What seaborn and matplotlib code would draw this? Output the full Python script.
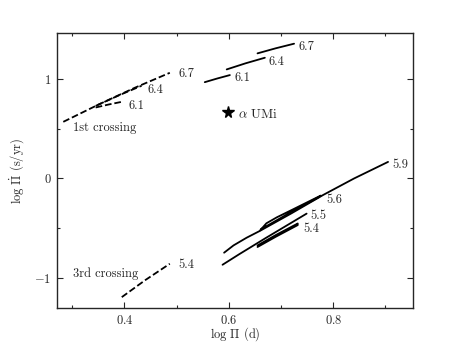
import numpy as np
import pandas as pd
import matplotlib
matplotlib.use("Agg")
import matplotlib.pyplot as plt
from matplotlib.ticker import MultipleLocator
import seaborn as sns

# first crossing (dashed)
c1_67_x = [0.283, 0.35, 0.42, 0.487]
c1_67_y = [0.568, 0.74, 0.91, 1.06]
c1_64_x = [0.345, 0.39, 0.433]
c1_64_y = [0.728, 0.835, 0.93]
c1_61_x = [0.345, 0.37, 0.398]
c1_61_y = [0.712, 0.742, 0.772]

# upper solid tracks
u_61_x = [0.554, 0.578, 0.602]
u_61_y = [0.966, 1.003, 1.037]
u_64_x = [0.596, 0.632, 0.669]
u_64_y = [1.094, 1.155, 1.211]
u_67_x = [0.655, 0.69, 0.725]
u_67_y = [1.255, 1.306, 1.352]

# third crossing (dashed)
c3_54_x = [0.395, 0.44, 0.487]
c3_54_y = [-1.191, -1.02, -0.856]

# lower solid tracks
t_59_x = [0.591, 0.609, 0.634, 0.660, 0.72, 0.781, 0.84, 0.905]
t_59_y = [-0.745, -0.672, -0.595, -0.525, -0.35, -0.165, 0.0, 0.166]
t_56_x = [0.660, 0.672, 0.692, 0.723, 0.776, 0.772, 0.72, 0.68, 0.662]
t_56_y = [-0.521, -0.45, -0.39, -0.31, -0.172, -0.19, -0.335, -0.455, -0.508]
t_55_x = [0.588, 0.62, 0.67, 0.71, 0.749]
t_55_y = [-0.866, -0.76, -0.60, -0.475, -0.353]
t_54_x = [0.655, 0.69, 0.732, 0.732, 0.69, 0.655]
t_54_y = [-0.672, -0.568, -0.452, -0.468, -0.585, -0.688]

star_x, star_y = 0.599, 0.668

tracks = [
    (c1_67_x, c1_67_y, "--", "6.7", (6, -1)),
    (c1_64_x, c1_64_y, "--", "6.4", (4, -3)),
    (c1_61_x, c1_61_y, "--", "6.1", (4, -3)),
    (u_61_x, u_61_y, "-", "6.1", (3, -2)),
    (u_64_x, u_64_y, "-", "6.4", (3, -3)),
    (u_67_x, u_67_y, "-", "6.7", (3, -2)),
    (c3_54_x, c3_54_y, "--", "5.4", (6, -1)),
    (t_59_x, t_59_y, "-", "5.9", (3, -2)),
    (t_56_x, t_56_y, "-", "5.6", (4, -3)),
    (t_55_x, t_55_y, "-", "5.5", (3, -1.5)),
    (t_54_x, t_54_y, "-", "5.4", (4, -4)),
]

sns.set_style("ticks")
plt.rcParams["font.family"] = "serif"
plt.rcParams["font.serif"] = ["cmr10"]
plt.rcParams["mathtext.fontset"] = "cm"
plt.rcParams["axes.formatter.use_mathtext"] = True
plt.rcParams["font.size"] = 9

fig = plt.figure(figsize=(4.58, 3.43), dpi=100)
ax = fig.add_axes([0.1245, 0.102, 0.7775, 0.802])

for xs, ys, ls, lab, off in tracks:
    sns.lineplot(x=xs, y=ys, sort=False, estimator=None, color="black",
                 linestyle=ls, linewidth=1.3, ax=ax)
    i = int(np.argmax(xs))
    ax.annotate(lab, (xs[i], ys[i]), xytext=off,
                textcoords="offset points", ha="left", va="center")

ax.plot(star_x, star_y, marker="*", color="black", markersize=8.5,
        linestyle="none")
ax.annotate(r"$\alpha$ UMi", (star_x, star_y), xytext=(7, -2),
            textcoords="offset points", ha="left", va="center", fontsize=9.5)
ax.text(0.302, 0.511, "1st crossing", ha="left", va="center")
ax.text(0.301, -0.956, "3rd crossing", ha="left", va="center")

ax.set_xlim(0.271, 0.953)
ax.set_ylim(-1.30, 1.46)
ax.xaxis.set_major_locator(MultipleLocator(0.2))
ax.xaxis.set_minor_locator(MultipleLocator(0.1))
ax.yaxis.set_major_locator(MultipleLocator(1))
ax.yaxis.set_minor_locator(MultipleLocator(0.5))
ax.tick_params(which="both", direction="in", top=True, right=True, width=0.8)
ax.tick_params(which="major", length=4, pad=4)
ax.tick_params(which="minor", length=2.5)
for s in ax.spines.values():
    s.set_linewidth(1.0)
ax.set_xlabel(r"$\log\,\Pi$ (d)", labelpad=-1)
ax.set_ylabel(r"$\log\,\dot{\Pi}$ (s/yr)", labelpad=6)

fig.savefig("out.png", dpi=100)
